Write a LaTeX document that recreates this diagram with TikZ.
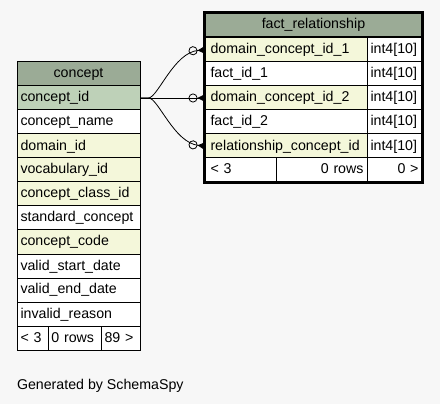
\documentclass[tikz,border=0pt]{standalone}
\usepackage{fontspec}
\setmainfont{Liberation Sans}
\usepackage{tikz}
\usetikzlibrary{arrows.meta}
\definecolor{bggray}{HTML}{F7F7F7}
\definecolor{hdrgreen}{HTML}{9BAB96}
\definecolor{pkgreen}{HTML}{BED1B8}
\definecolor{idxyellow}{HTML}{F4F7DA}

\begin{document}
\begin{tikzpicture}[x=1pt, y=-1pt, line width=1pt,
  every node/.style={font=\fontsize{14.2}{17}\selectfont},
  cell/.style={draw, fill=white, anchor=north west, minimum height=24pt, inner ysep=0pt, inner xsep=3.5pt, text height=11pt, text depth=3pt, align=left},
  hdr/.style={draw, fill=hdrgreen, anchor=north west, minimum height=24pt, inner sep=0pt, text height=11pt, text depth=3pt, align=center},
  rel/.style={line width=0.8pt, -{Circle[open,length=9pt,width=9pt] Triangle[reversed,length=7pt,width=7pt]}}]
  \fill[bggray] (0,0) rectangle (440,404);
  \node[hdr, text width=123pt] (concept) at (16.5,61.5) {concept};
  \node[cell, fill=pkgreen, text width=116pt] (cid) at (16.5,85.5) {concept\_id};
  \node[cell, text width=116pt] (cname) at (16.5,109.5) {concept\_name};
  \node[cell, fill=idxyellow, text width=116pt] (domid) at (16.5,133.5) {domain\_id};
  \node[cell, fill=idxyellow, text width=116pt] (vocid) at (16.5,157.5) {vocabulary\_id};
  \node[cell, fill=idxyellow, text width=116pt] (ccid) at (16.5,181.5) {concept\_class\_id};
  \node[cell, text width=116pt] (stdc) at (16.5,205.5) {standard\_concept};
  \node[cell, fill=idxyellow, text width=116pt] (ccode) at (16.5,229.5) {concept\_code};
  \node[cell, text width=116pt] (vsd) at (16.5,253.5) {valid\_start\_date};
  \node[cell, text width=116pt] (ved) at (16.5,277.5) {valid\_end\_date};
  \node[cell, text width=116pt] (ir) at (16.5,301.5) {invalid\_reason};
  \node[cell, text width=24pt] (cf1) at (16.5,325.5) {< 3};
  \node[cell, text width=46pt] (cf2) at (47.5,325.5) {0 rows};
  \node[cell, text width=32pt] (cf3) at (100.5,325.5) {89 >};
  \node[hdr, text width=217pt] (fact) at (204.5,12.5) {fact\_relationship};
  \node[cell, fill=idxyellow, inner xsep=5.5pt, text width=151pt] (dc1) at (204.5,37.5) {domain\_concept\_id\_1};
  \node[cell, text width=48pt] (dc1t) at (366.5,37.5) {int4[10]};
  \node[cell, inner xsep=5.5pt, text width=151pt] (fid1) at (204.5,61.5) {fact\_id\_1};
  \node[cell, text width=48pt] (fid1t) at (366.5,61.5) {int4[10]};
  \node[cell, fill=idxyellow, inner xsep=5.5pt, text width=151pt] (dc2) at (204.5,85.5) {domain\_concept\_id\_2};
  \node[cell, text width=48pt] (dc2t) at (366.5,85.5) {int4[10]};
  \node[cell, inner xsep=5.5pt, text width=151pt] (fid2) at (204.5,109.5) {fact\_id\_2};
  \node[cell, text width=48pt] (fid2t) at (366.5,109.5) {int4[10]};
  \node[cell, fill=idxyellow, inner xsep=5.5pt, text width=151pt] (rc) at (204.5,133.5) {relationship\_concept\_id};
  \node[cell, text width=48pt] (rct) at (366.5,133.5) {int4[10]};
  \node[cell, inner xsep=5.5pt, text width=60pt] (ff1) at (204.5,157.5) {< 3};
  \node[cell, text width=84pt, align=right] (ff2) at (275.5,157.5) {0 rows};
  \node[cell, text width=48pt, align=right] (ff3) at (366.5,157.5) {0 >};
  \draw[rel] (cid.east) -- ++(8,0) .. controls (158,97.5) and (174,52) .. (dc1.west);
  \draw[rel] (cid.east) -- (dc2.west);
  \draw[rel] (cid.east) -- ++(8,0) .. controls (158,97.5) and (174,143) .. (rc.west);
  \draw[line width=3pt] (fact.north west) rectangle (ff3.south east);
  \node[anchor=base west, inner sep=0pt] (gen) at (16.5,389) {Generated by SchemaSpy};
\end{tikzpicture}
\end{document}
